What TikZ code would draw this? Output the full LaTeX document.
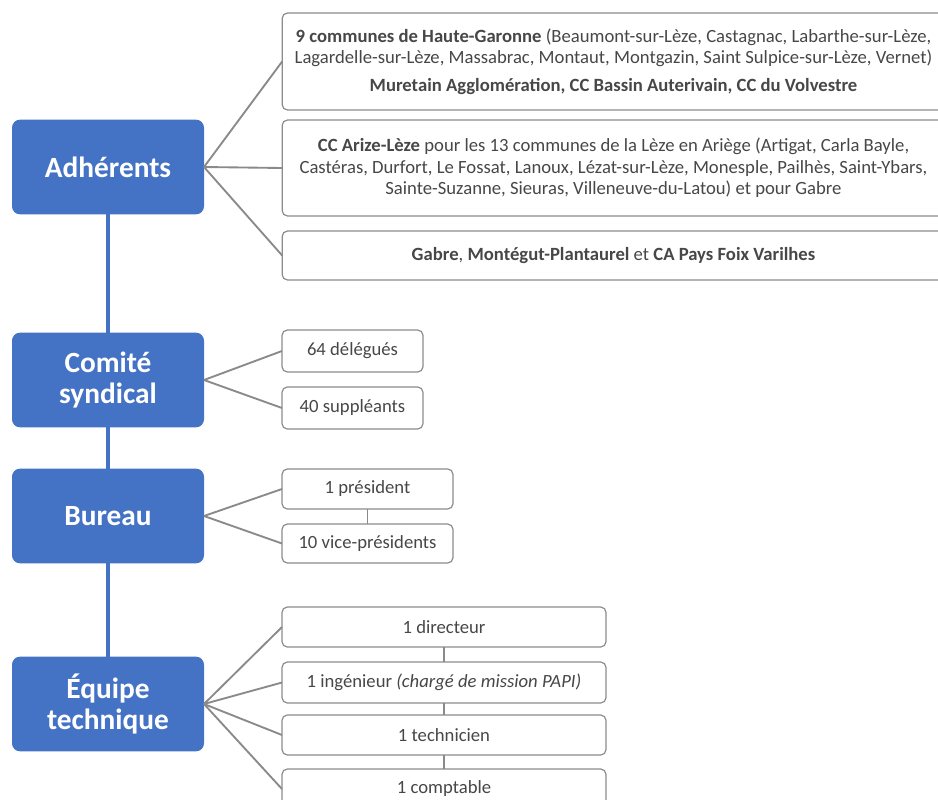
\documentclass[tikz,border=0pt]{standalone}
\usepackage{fontspec}
\setmainfont{Carlito}
\definecolor{bl}{HTML}{4472C4}
\definecolor{bord}{HTML}{8C8C8C}
\definecolor{ln}{HTML}{8A8A8A}
\definecolor{txt}{HTML}{474747}
\tikzset{
  role/.style={fill=bl, rounded corners=6pt, minimum width=144pt, minimum height=71pt,
    text=white, font=\bfseries\fontsize{22}{23.5}\selectfont, align=center, inner sep=0pt, outer sep=0pt},
  item/.style={draw=bord, line width=0.9pt, rounded corners=4pt, fill=white, text=txt,
    font=\fontsize{14}{16.2}\selectfont, align=center, inner sep=0pt, outer sep=0pt},
  fan/.style={draw=ln, line width=1.4pt},
  link/.style={draw=ln, line width=1pt},
  spine/.style={draw=bl, line width=3pt},
}
\begin{document}
\begin{tikzpicture}[x=0.75pt,y=-0.75pt]
\path[use as bounding box] (0,0) rectangle (938,799);
\clip (0,0) rectangle (938,799);
\fill[white] (0,0) rectangle (938,799);
% left column
\node[role] (adh) at (108,167) {Adhérents};
\node[role] (com) at (108,380) {Comité\\syndical};
\node[role] (bur) at (108,516) {Bureau};
\node[role] (equ) at (108,704) {Équipe\\technique};
\path[spine] (adh.south) -- (com.north);
\path[spine] (com.south) -- (bur.north);
\path[spine] (bur.south) -- (equ.north);
% adherents
\node[item, minimum width=497pt, minimum height=72.75pt] (b1) at (613.5,61.5)
  {\textbf{9 communes de Haute-Garonne} (Beaumont-sur-Lèze, Castagnac, Labarthe-sur-Lèze,\\
   Lagardelle-sur-Lèze, Massabrac, Montaut, Montgazin, Saint Sulpice-sur-Lèze, Vernet)\\[4.5pt]
   \textbf{Muretain Agglomération, CC Bassin Auterivain, CC du Volvestre}};
\node[item, minimum width=497pt, minimum height=72pt] (b2) at (613.5,168)
  {\textbf{CC Arize-Lèze} pour les 13 communes de la Lèze en Ariège (Artigat, Carla Bayle,\\
   Castéras, Durfort, Le Fossat, Lanoux, Lézat-sur-Lèze, Monesple, Pailhès, Saint-Ybars,\\
   Sainte-Suzanne, Sieuras, Villeneuve-du-Latou) et pour Gabre};
\node[item, minimum width=497pt, minimum height=36.75pt] (b3) at (613.5,255.5)
  {\textbf{Gabre}, \textbf{Montégut-Plantaurel} et \textbf{CA Pays Foix Varilhes}};
\path[fan] (adh.east) -- (b1.west);
\path[fan] (adh.east) -- (b2.west);
\path[fan] (adh.east) -- (b3.west);
% comite
\node[item, minimum width=105.75pt, minimum height=31.5pt] (del) at (352.5,351) {64 délégués};
\node[item, minimum width=105.75pt, minimum height=31.5pt] (sup) at (352.5,408) {40 suppléants};
\path[fan] (com.east) -- (del.west);
\path[fan] (com.east) -- (sup.west);
% bureau
\node[item, minimum width=128.25pt, minimum height=30pt] (pres) at (367.5,489) {1 président};
\node[item, minimum width=128.25pt, minimum height=29.25pt] (vp) at (367.5,543.5) {10 vice-présidents};
\path[fan] (bur.east) -- (pres.west);
\path[fan] (bur.east) -- (vp.west);
\path[link] (pres.south) -- (vp.north);
% equipe
\node[item, minimum width=243pt, minimum height=30pt] (dir) at (444,627) {1 directeur};
\node[item, minimum width=243pt, minimum height=30.75pt] (ing) at (444,682.5) {1 ingénieur \textit{(chargé de mission PAPI)}};
\node[item, minimum width=243pt, minimum height=30pt] (tec) at (444,735) {1 technicien};
\node[item, minimum width=243pt, minimum height=30pt] (cpt) at (444,789) {1 comptable};
\path[fan] (equ.east) -- (dir.west);
\path[fan] (equ.east) -- (ing.west);
\path[fan] (equ.east) -- (tec.west);
\path[fan] (equ.east) -- (cpt.west);
\path[link] (dir.south) -- (ing.north);
\path[link] (ing.south) -- (tec.north);
\path[link] (tec.south) -- (cpt.north);
\end{tikzpicture}
\end{document}
